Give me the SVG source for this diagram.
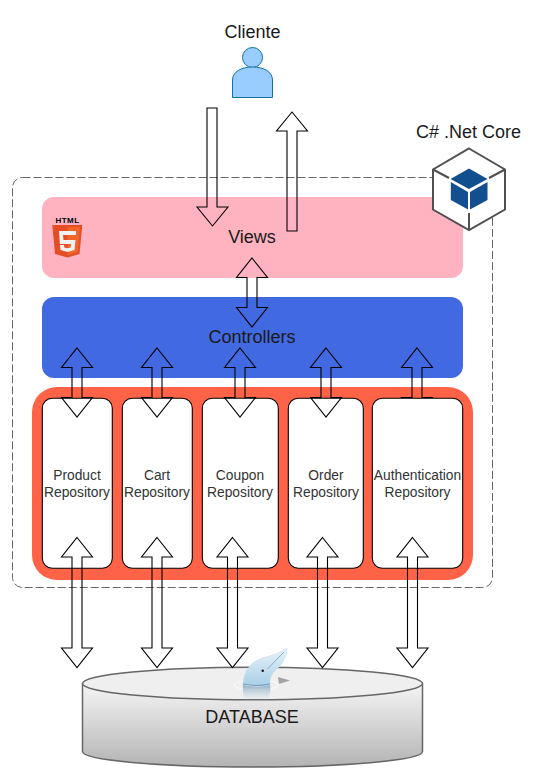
<svg xmlns="http://www.w3.org/2000/svg" width="548" height="780" viewBox="0 0 548 780">
<style>
text{font-family:"Liberation Sans",Arial,sans-serif;fill:#1a1a1a;text-anchor:middle}
.big{font-size:18px}
.small{font-size:13.8px;fill:#333}
.repo{fill:#fff;stroke:#000;stroke-width:1.1}
.arrow{fill:none;stroke:#000;stroke-width:1.1;stroke-linejoin:miter}
</style>
<defs>
<linearGradient id="db" x1="0" y1="0" x2="0" y2="1"><stop offset="0" stop-color="#f5f5f5"/><stop offset="1" stop-color="#b3b3b3"/></linearGradient>
<linearGradient id="dol" x1="0" y1="0" x2="0" y2="1"><stop offset="0" stop-color="#e8f2f9"/><stop offset="1" stop-color="#a8d0e8"/></linearGradient>
<linearGradient id="ref" x1="0" y1="0" x2="0" y2="1"><stop offset="0" stop-color="#86aac2" stop-opacity=".9"/><stop offset="1" stop-color="#c8d8e2" stop-opacity="0"/></linearGradient>
<path id="bi" d="M0 0L15.500 19.500H5V49.500H15.500L0 69L-15.500 49.500H-5V19.500H-15.500Z"/>
<path id="bilong" d="M0 0L15.500 19.500H5V110.500H15.500L0 130L-15.500 110.500H-5V19.500H-15.500Z"/>
</defs>
<g id="boundary"><rect x="12.500" y="177.500" width="480" height="410" rx="10" fill="none" stroke="#666" stroke-dasharray="8 3"/></g>
<g id="views"><rect x="42" y="197" width="421" height="81" rx="12" fill="#ffb3c0"/><text class="big" x="252" y="242.500">Views</text></g>
<g id="controllers"><rect x="42" y="297" width="421" height="81" rx="12" fill="#4169e1"/><text class="big" x="252" y="342.500">Controllers</text></g>
<g id="repositories"><rect x="32" y="387" width="441" height="193" rx="25" fill="#ff6347"/></g>
<g id="auth-arrow-under"><use href="#bi" x="417" y="348" class="arrow"/></g>
<g id="product"><rect class="repo" x="42.300" y="398.300" width="70" height="170" rx="10"/><text class="small" x="77" y="479.500">Product</text><text class="small" x="77" y="496.700">Repository</text></g>
<g id="cart"><rect class="repo" x="122.300" y="398.300" width="70" height="170" rx="10"/><text class="small" x="157" y="479.500">Cart</text><text class="small" x="157" y="496.700">Repository</text></g>
<g id="coupon"><rect class="repo" x="202.300" y="398.300" width="76" height="170" rx="10"/><text class="small" x="240" y="479.500">Coupon</text><text class="small" x="240" y="496.700">Repository</text></g>
<g id="order"><rect class="repo" x="288.300" y="398.300" width="75" height="170" rx="10"/><text class="small" x="326" y="479.500">Order</text><text class="small" x="326" y="496.700">Repository</text></g>
<g id="auth"><rect class="repo" x="372.300" y="398.300" width="90.400" height="170" rx="10"/><text class="small" x="417.500" y="479.500">Authentication</text><text class="small" x="417.500" y="496.700">Repository</text></g>
<g id="database">
<path d="M82.500 684V751.500C82.500 760 158 767 252.500 767S422.500 760 422.500 751.500V684Z" fill="url(#db)" stroke="#666" stroke-width="1.500"/>
<ellipse cx="252.500" cy="683.500" rx="170" ry="16.300" fill="#efefef" stroke="#666" stroke-width="1.500"/>
<text class="big" x="252" y="722.700">DATABASE</text>
</g>
<g id="mysql-logo">
<path d="M278 677L290 680.500L279 684Z" fill="#a3a3a3"/>
<ellipse cx="256" cy="685" rx="22" ry="5" fill="none" stroke="#fff" stroke-width=".8"/>
<path d="M243 685Q256 688 270 685C271 690 270 696 268 701H245C243 696 242.500 690 243 685Z" fill="url(#ref)"/>
<path d="M243 684C244 673 249 664 258 660C264 657 270 656 276 654L287 648.500C287.500 655 283 662 279 667C273 672 269 677 270 684Q256 687 243 684Z" fill="url(#dol)" stroke="#b6d6ea" stroke-width=".5"/>
<path d="M243 684Q256 687 270 684" fill="none" stroke="#6d9cbd" stroke-width="1.200"/>
<path d="M267.500 669L284 652" fill="none" stroke="#6f8fa8" stroke-width=".7"/>
<circle cx="262.700" cy="670.700" r="1.200" fill="#111"/>
</g>
<g id="cliente">
<text class="big" x="252.500" y="37.500">Cliente</text>
<circle cx="252.500" cy="57.500" r="10" fill="#99ccff" stroke="#10739e"/>
<path d="M232.500 97.500V80C232.500 72 241 67 252.500 67S272.500 72 272.500 80V97.500Z" fill="#99ccff" stroke="#10739e"/>
</g>
<g id="csharp">
<text class="big" x="468.500" y="138">C# .Net Core</text>
<path d="M469 148.500L505 169.500V209.500L469 230L433 209.500V169.500Z" fill="#fff" stroke="#505050" stroke-width="2"/>
<path d="M433 169.500L449 178M505 169.500L489 178M469 230V213" fill="none" stroke="#505050" stroke-width="2"/>
<path d="M469 168.500L487.500 179L469 189L450.500 179Z" fill="#114f8f"/>
<path d="M450.800 182L468 192V209.500L450.800 200Z" fill="#114f8f"/>
<path d="M487.500 182L470 192V209.500L487.500 200Z" fill="#114f8f"/>
</g>
<g id="html5">
<text x="67.500" y="223" style="font-size:8px;font-weight:bold;fill:#000;letter-spacing:.5px">HTML</text>
<path d="M52.300 225H82.300L79.500 254L67.500 257.500L55 254Z" fill="#e44d26"/>
<path d="M67.500 227H80L77.800 252L67.500 255Z" fill="#f16529"/>
<path d="M59 231H76V235H63L63.500 240H75.500L74.500 250L67.500 252L60.500 250L60 245H64L64.300 247.500L67.500 248.300L70.700 247.500L71 244H59.800Z" fill="#f2f2f2"/>
</g>
<g id="connectors">
<path class="arrow" d="M207 108H217V207H228L212.500 226L197 207H207Z"/>
<path class="arrow" d="M292 112L307.500 131H297V231H287V131H276.500Z"/>
<use href="#bi" x="252" y="258" class="arrow"/>
<use href="#bi" x="77" y="348" class="arrow"/>
<use href="#bi" x="157" y="348" class="arrow"/>
<use href="#bi" x="240" y="348" class="arrow"/>
<use href="#bi" x="326" y="348" class="arrow"/>
<use href="#bilong" x="77" y="537.500" class="arrow"/>
<use href="#bilong" x="157" y="537.500" class="arrow"/>
<use href="#bilong" x="232.500" y="537.500" class="arrow"/>
<use href="#bilong" x="322.500" y="537.500" class="arrow"/>
<use href="#bilong" x="412.500" y="537.500" class="arrow"/>
</g>
</svg>
